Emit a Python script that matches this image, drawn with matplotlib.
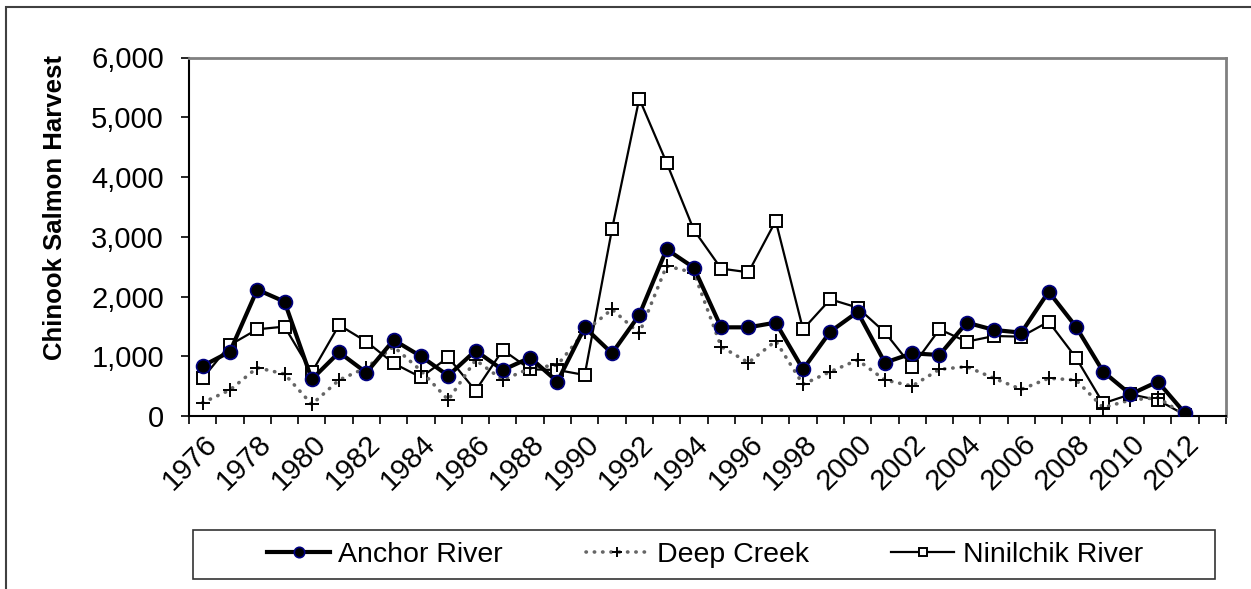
import matplotlib.pyplot as plt
from matplotlib.patches import Rectangle
from matplotlib.ticker import FuncFormatter, FixedLocator

plt.rcParams['font.family'] = ['Liberation Sans', 'DejaVu Sans']

years = list(range(1976, 2013))

anchor = [837, 1077, 2115, 1914, 614, 1066, 725, 1272, 999, 675, 1094, 770,
          977, 575, 1484, 1049, 1691, 2790, 2483, 1484, 1484, 1563, 781, 1412,
          1741, 893, 1049, 1021, 1563, 1440, 1395, 2081, 1496, 742, 363, 575, 45]

deep_creek = [223, 435, 809, 703, 195, 603, 809, 1161, 759, 268, 937, 603,
              798, 854, 1412, 1786, 1384, 2511, 2400, 1161, 893, 1256, 530, 742,
              937, 603, 502, 781, 826, 631, 446, 631, 603, 140, 268, 307, 17]

ninilchik = [631, 1189, 1451, 1496, 731, 1523, 1244, 882, 647, 982, 424, 1105,
             781, 770, 686, 3125, 5312, 4241, 3114, 2467, 2405, 3265, 1451, 1953,
             1814, 1401, 826, 1451, 1244, 1339, 1328, 1579, 977, 212, 363, 268, 17]

W, H = 1251, 589
fig = plt.figure(figsize=(W / 100, H / 100), dpi=100)
ax = fig.add_axes([189 / W, 1 - 416 / H, (1226 - 189) / W, (416 - 57.5) / H])

x = list(range(len(years)))

l3, = ax.plot(x, ninilchik, color='black', lw=1.6, marker='s', markersize=8.5,
              markerfacecolor='white', markeredgecolor='black', markeredgewidth=1.4,
              zorder=3, label='Ninilchik River')
l2, = ax.plot(x, deep_creek, color='#666666', lw=2.6, linestyle=(0, (0.1, 2.2)),
              dash_capstyle='round', marker='+', markersize=10,
              markeredgecolor='black', markeredgewidth=1.4,
              zorder=4, label='Deep Creek')
l1, = ax.plot(x, anchor, color='black', lw=3, marker='o', markersize=10,
              markerfacecolor='black', markeredgecolor='#000080', markeredgewidth=1.2,
              zorder=5, label='Anchor River')

ax.set_xlim(-0.5, 37.5)
ax.set_ylim(0, 6000)
ax.set_yticks(range(0, 6001, 1000))
ax.yaxis.set_major_formatter(FuncFormatter(lambda v, p: f'{int(v):,}'))

# category axis: ticks between categories, labels every second year
ax.xaxis.set_major_locator(FixedLocator([i - 0.5 for i in range(39)]))
ax.xaxis.set_minor_locator(FixedLocator(list(range(0, 37, 2))))
ax.set_xticklabels([], minor=False)
ax.set_xticklabels([str(y) for y in years[::2]], minor=True)
ax.tick_params(axis='x', which='major', direction='out', length=6, width=1.2)
ax.tick_params(axis='x', which='minor', length=0, pad=10, labelsize=21)
for lab in ax.get_xticklabels(minor=True):
    lab.set_rotation(45)
    lab.set_ha('right')
    lab.set_va('top')
    lab.set_rotation_mode('anchor')
ax.tick_params(axis='y', direction='out', length=6, width=1.2, pad=12, labelsize=21)

ax.spines['left'].set_linewidth(1.5)
ax.spines['bottom'].set_linewidth(1.5)
ax.spines['top'].set_color('#808080')
ax.spines['right'].set_color('#808080')
ax.spines['top'].set_linewidth(2)
ax.spines['right'].set_linewidth(2)

fig.text(55 / W, 1 - 207 / H, 'Chinook Salmon Harvest', rotation=90,
         fontsize=18.5, fontweight='bold', ha='center', va='center')

# legend box
fig.patches.append(Rectangle((193 / W, 1 - 579 / H), (1215 - 193) / W, 49 / H,
                             transform=fig.transFigure, fill=False,
                             edgecolor='#333333', lw=1.2))
fig.legend(handles=[l1, l2, l3], loc='center', bbox_to_anchor=(705 / W, 1 - 554.5 / H),
           ncol=3, frameon=False, fontsize=20.5, handlelength=2.2,
           handletextpad=0.3, columnspacing=2.9, markerscale=0.75)

# outer chart frame
fig.patches.append(Rectangle((6 / W, -0.1), 1.2, 1 - 7 / H + 0.1,
                             transform=fig.transFigure, fill=False,
                             edgecolor='#404040', lw=1.5))

fig.savefig('out.png', dpi=100)
